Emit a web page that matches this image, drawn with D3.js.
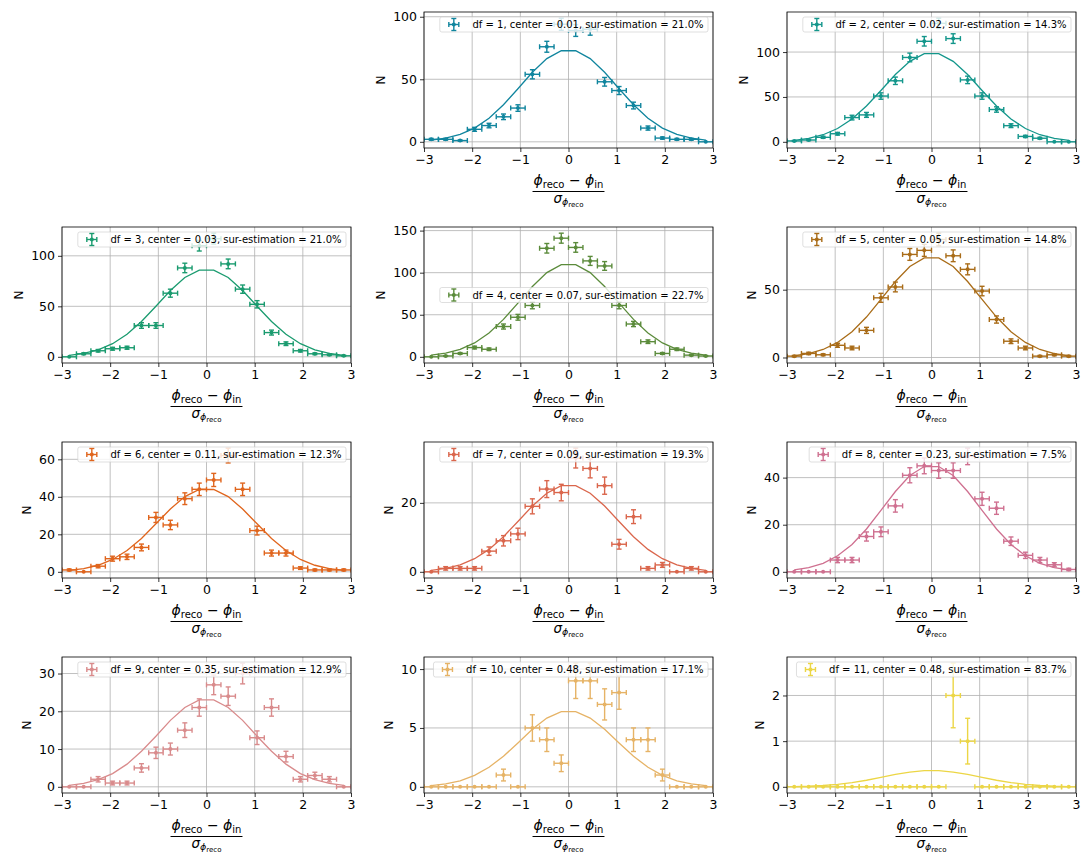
<!DOCTYPE html>
<html><head><meta charset="utf-8">
<script src="https://cdn.jsdelivr.net/npm/d3@7"></script>
<style>
body{margin:0;background:#fff}
svg{display:block}
text{font-family:"DejaVu Sans",sans-serif;fill:#000}
</style>
</head><body>
<svg id="chart" width="1088" height="857"></svg>
<script>
// ---------------- data ----------------
const binCenters = [-2.85,-2.55,-2.25,-1.95,-1.65,-1.35,-1.05,-0.75,-0.45,-0.15,0.15,0.45,0.75,1.05,1.35,1.65,1.95,2.25,2.55,2.85];
const xErr = 0.15;
const xTicks = [-3,-2,-1,0,1,2,3];
const dfValues = [1,2,3,4,5,6,7,8,9,10,11];
const centerValues = ["0.01","0.02","0.03","0.07","0.05","0.11","0.09","0.23","0.35","0.48","0.48"];
const surEstimation = ["21.0","14.3","21.0","22.7","14.8","12.3","19.3","7.5","12.9","17.1","83.7"];

const counts1  = [2,2,1,10,13,20,27,54,76,94,89,90,48,41,29,11,3,2,2,0];
const counts2  = [1,2,5,9,27,30,51,68,94,112,132,115,69,51,36,18,6,4,0,0];
const counts3  = [0,3,6,8,9,31,31,63,88,110,117,92,67,52,24,13,6,3,2,1];
const counts4  = [0,1,4,11,9,36,47,61,129,141,130,114,108,61,39,18,4,9,2,1];
const counts5  = [1,3,2,9,7,20,44,52,76,79,87,75,65,49,28,12,7,1,2,1];
const counts6  = [1,0,3,7,8,13,29,25,39,44,49,62,44,22,10,10,2,1,1,1];
const counts7  = [0,1,1,1,6,9,11,19,24,23,33,30,25,8,16,1,2,0,1,0];
const counts8  = [0,0,0,5,5,15,17,28,41,45,43,43,49,31,27,13,7,5,3,1];
const counts9  = [0,0,2,1,1,5,9,10,15,21,27,24,30,13,21,8,2,3,2,0];
const counts10 = [0,0,0,0,0,1,0,5,4,2,9,9,7,8,4,4,1,0,0,0];
const counts11 = [0,0,0,0,0,0,0,0,0,0,0,2,1,0,0,0,0,0,0,0];

const fit1  = [1.3,2.9,5.9,11.0,18.9,29.6,42.4,55.6,66.5,72.8,72.8,66.5,55.6,42.4,29.6,18.9,11.0,5.9,2.9,1.3];
const fit2  = [1.7,3.8,7.9,14.8,25.5,39.9,57.2,75.0,89.7,98.2,98.2,89.7,75.0,57.2,39.9,25.5,14.8,7.9,3.8,1.7];
const fit3  = [1.5,3.4,6.9,13.0,22.3,34.9,50.1,65.6,78.5,85.9,85.9,78.5,65.6,50.1,34.9,22.3,13.0,6.9,3.4,1.5];
const fit4  = [1.9,4.3,8.8,16.5,28.4,44.5,63.8,83.6,100.1,109.5,109.5,100.1,83.6,63.8,44.5,28.4,16.5,8.8,4.3,1.9];
const fit5  = [1.3,2.9,5.9,11.1,19.0,29.8,42.8,56.0,67.1,73.4,73.4,67.1,56.0,42.8,29.8,19.0,11.1,5.9,2.9,1.3];
const fit6  = [0.8,1.7,3.5,6.6,11.4,17.8,25.6,33.5,40.1,43.9,43.9,40.1,33.5,25.6,17.8,11.4,6.6,3.5,1.7,0.8];
const fit7  = [0.4,1.0,2.0,3.8,6.5,10.2,14.6,19.1,22.8,25.0,25.0,22.8,19.1,14.6,10.2,6.5,3.8,2.0,1.0,0.4];
const fit8  = [0.8,1.8,3.6,6.8,11.6,18.2,26.1,34.1,40.9,44.7,44.7,40.9,34.1,26.1,18.2,11.6,6.8,3.6,1.8,0.8];
const fit9  = [0.4,0.9,1.9,3.5,6.0,9.4,13.4,17.6,21.0,23.0,23.0,21.0,17.6,13.4,9.4,6.0,3.5,1.9,0.9,0.4];
const fit10 = [0.11,0.25,0.51,0.97,1.66,2.60,3.72,4.88,5.84,6.39,6.39,5.84,4.88,3.72,2.60,1.66,0.97,0.51,0.25,0.11];
const fit11 = [0.006,0.014,0.029,0.054,0.092,0.144,0.207,0.271,0.324,0.355,0.355,0.324,0.271,0.207,0.144,0.092,0.054,0.029,0.014,0.006];

const yTicks1 = [0,50,100], yTicks2 = [0,50,100], yTicks3 = [0,50,100], yTicks4 = [0,50,100,150];
const yTicks5 = [0,50], yTicks6 = [0,20,40,60], yTicks7 = [0,20], yTicks8 = [0,20,40];
const yTicks9 = [0,10,20,30], yTicks10 = [0,5,10], yTicks11 = [0,1,2];

const colors = ["#10859e","#13968b","#1a9b6f","#5b8b3b","#a96c18","#e0651d","#da664c","#cf7090","#d98b8c","#e6b366","#ecd645"];
const legendLoc = ["upper right","upper right","upper right","center right","upper right","upper right","upper right","upper right","upper right","upper right","upper right"];

const allCounts = [counts1,counts2,counts3,counts4,counts5,counts6,counts7,counts8,counts9,counts10,counts11];
const allFits = [fit1,fit2,fit3,fit4,fit5,fit6,fit7,fit8,fit9,fit10,fit11];
const allYTicks = [yTicks1,yTicks2,yTicks3,yTicks4,yTicks5,yTicks6,yTicks7,yTicks8,yTicks9,yTicks10,yTicks11];

// ---------------- layout ----------------
const colLeft = [62,424,787], axW = 289;
const rowTop = [12,227,442,657], axH = 136;
const svg = d3.select("#chart");
const fmt = v => String(v).replace("-", "\u2212");

dfValues.forEach((df, i) => {
  const pos = i + 1;
  const row = Math.floor(pos / 3), col = pos % 3;
  const L = colLeft[col], T = rowTop[row];
  const color = colors[i];
  const counts = allCounts[i], fit = allFits[i];
  const pts = binCenters.map((x, k) => ({x, y: counts[k], e: Math.sqrt(counts[k]) / 2}));

  let lo = d3.min([d3.min(pts, p => p.y - p.e), d3.min(fit)]);
  let hi = d3.max([d3.max(pts, p => p.y + p.e), d3.max(fit)]);
  const pad = 0.05 * (hi - lo);
  const x = d3.scaleLinear().domain([-3, 3]).range([0, axW]);
  const y = d3.scaleLinear().domain([lo - pad, hi + pad]).range([axH, 0]);

  const g = svg.append("g").attr("transform", `translate(${L},${T})`);
  const clipId = "clip" + i;
  g.append("clipPath").attr("id", clipId).append("rect").attr("width", axW).attr("height", axH);

  // grid
  g.append("g").selectAll("line").data(xTicks).join("line")
    .attr("x1", d => x(d)).attr("x2", d => x(d)).attr("y1", 0).attr("y2", axH)
    .attr("stroke", "#b0b0b0").attr("stroke-width", 0.8);
  g.append("g").selectAll("line").data(allYTicks[i]).join("line")
    .attr("x1", 0).attr("x2", axW).attr("y1", d => y(d)).attr("y2", d => y(d))
    .attr("stroke", "#b0b0b0").attr("stroke-width", 0.8);

  const plot = g.append("g").attr("clip-path", `url(#${clipId})`);
  // fit curve
  plot.append("path").datum(binCenters.map((xx, k) => [xx, fit[k]]))
    .attr("d", d3.line().x(d => x(d[0])).y(d => y(d[1])))
    .attr("fill", "none").attr("stroke", color).attr("stroke-width", 1.3);

  // error bars
  const eb = plot.append("g").selectAll("g").data(pts).join("g").attr("stroke", color).attr("stroke-width", 1.4);
  eb.append("line").attr("x1", p => x(p.x - xErr)).attr("x2", p => x(p.x + xErr)).attr("y1", p => y(p.y)).attr("y2", p => y(p.y));
  eb.append("line").attr("x1", p => x(p.x - xErr)).attr("x2", p => x(p.x - xErr)).attr("y1", p => y(p.y) - 2.5).attr("y2", p => y(p.y) + 2.5);
  eb.append("line").attr("x1", p => x(p.x + xErr)).attr("x2", p => x(p.x + xErr)).attr("y1", p => y(p.y) - 2.5).attr("y2", p => y(p.y) + 2.5);
  eb.filter(p => p.e > 0).append("line").attr("x1", p => x(p.x)).attr("x2", p => x(p.x)).attr("y1", p => y(p.y - p.e)).attr("y2", p => y(p.y + p.e));
  eb.filter(p => p.e > 0).append("line").attr("x1", p => x(p.x) - 2.5).attr("x2", p => x(p.x) + 2.5).attr("y1", p => y(p.y - p.e)).attr("y2", p => y(p.y - p.e));
  eb.filter(p => p.e > 0).append("line").attr("x1", p => x(p.x) - 2.5).attr("x2", p => x(p.x) + 2.5).attr("y1", p => y(p.y + p.e)).attr("y2", p => y(p.y + p.e));
  plot.append("g").selectAll("circle").data(pts).join("circle")
    .attr("cx", p => x(p.x)).attr("cy", p => y(p.y)).attr("r", 2).attr("fill", color);

  // axes
  const xa = g.append("g").attr("transform", `translate(0,${axH})`)
    .call(d3.axisBottom(x).tickValues(xTicks).tickFormat(fmt).tickSizeInner(4).tickSizeOuter(0).tickPadding(3));
  const ya = g.append("g")
    .call(d3.axisLeft(y).tickValues(allYTicks[i]).tickFormat(fmt).tickSizeInner(4).tickSizeOuter(0).tickPadding(3));
  [xa, ya].forEach(a => {
    a.select(".domain").remove();
    a.selectAll("line").attr("stroke", "#000").attr("stroke-width", 0.8);
    a.selectAll("text").attr("font-size", 12.5).attr("font-family", "DejaVu Sans").attr("fill", "#000");
  });
  g.append("rect").attr("width", axW).attr("height", axH).attr("fill", "none").attr("stroke", "#000").attr("stroke-width", 0.8);

  // y label
  let maxW = 0;
  ya.selectAll("text").each(function(){ maxW = Math.max(maxW, this.getComputedTextLength()); });
  g.append("text").attr("transform", `translate(${-7 - maxW - 8},${axH / 2}) rotate(-90)`)
    .attr("text-anchor", "middle").attr("font-size", 12.5).text("N");

  // x label (fraction)
  const xl = g.append("g").attr("transform", `translate(${axW / 2},${axH})`);
  const num = xl.append("text").attr("y", 37).attr("text-anchor", "middle").attr("font-size", 14);
  num.append("tspan").attr("font-style", "italic").text("\u03d5");
  num.append("tspan").attr("font-size", 10).attr("dy", 3).text("reco");
  num.append("tspan").attr("dy", -3).text(" \u2212 ");
  num.append("tspan").attr("font-style", "italic").text("\u03d5");
  num.append("tspan").attr("font-size", 10).attr("dy", 3).text("in");
  const nw = num.node().getComputedTextLength();
  xl.append("line").attr("x1", -nw / 2 - 1).attr("x2", nw / 2 + 1).attr("y1", 43.5).attr("y2", 43.5)
    .attr("stroke", "#000").attr("stroke-width", 1.1);
  const den = xl.append("text").attr("y", 55).attr("text-anchor", "middle").attr("font-size", 13.5);
  den.append("tspan").attr("font-style", "italic").text("\u03c3");
  den.append("tspan").attr("font-style", "italic").attr("font-size", 9.5).attr("dy", 2).text("\u03d5");
  den.append("tspan").attr("font-size", 7).attr("dy", 2).text("reco");

  // legend
  const fs = 10;
  const lg = g.append("g");
  const label = `df = ${df}, center = ${centerValues[i]}, sur-estimation = ${surEstimation[i]}%`;
  const lt = lg.append("text").attr("font-size", fs).text(label);
  const tw = lt.node().getComputedTextLength();
  const bw = 32.6 + tw + 4.5;
  const bh = 15;
  const bx = axW - 5 - bw;
  const by = legendLoc[i] === "center right" ? (axH - bh) / 2 : 5;
  lg.insert("rect", "text").attr("x", bx).attr("y", by).attr("width", bw).attr("height", bh)
    .attr("rx", 2).attr("fill", "#fff").attr("fill-opacity", 0.8).attr("stroke", "#cccccc").attr("stroke-opacity", 0.8).attr("stroke-width", 0.8);
  lt.attr("x", bx + 32.6).attr("y", by + bh / 2).attr("dy", "0.36em");
  const hx = bx + 14, hy = by + bh / 2;
  const hg = lg.append("g").attr("stroke", color).attr("stroke-width", 1.4);
  hg.append("line").attr("x1", hx - 5).attr("x2", hx + 5).attr("y1", hy).attr("y2", hy);
  hg.append("line").attr("x1", hx - 5).attr("x2", hx - 5).attr("y1", hy - 2.5).attr("y2", hy + 2.5);
  hg.append("line").attr("x1", hx + 5).attr("x2", hx + 5).attr("y1", hy - 2.5).attr("y2", hy + 2.5);
  hg.append("line").attr("x1", hx).attr("x2", hx).attr("y1", hy - 6).attr("y2", hy + 6);
  hg.append("line").attr("x1", hx - 2.5).attr("x2", hx + 2.5).attr("y1", hy - 6).attr("y2", hy - 6);
  hg.append("line").attr("x1", hx - 2.5).attr("x2", hx + 2.5).attr("y1", hy + 6).attr("y2", hy + 6);
  lg.append("circle").attr("cx", hx).attr("cy", hy).attr("r", 2).attr("fill", color);
});
</script>
</body></html>
